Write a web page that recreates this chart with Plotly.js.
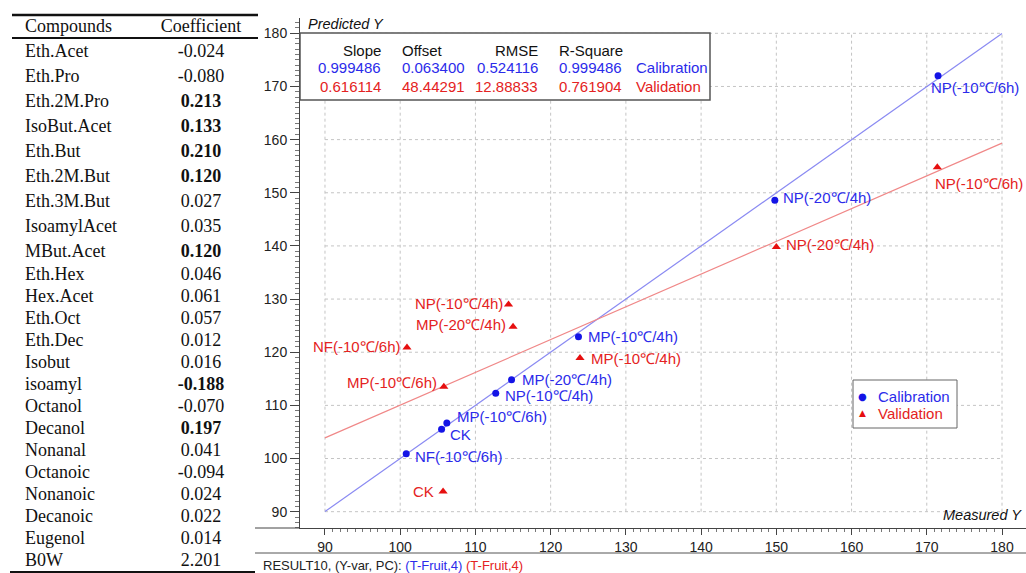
<!DOCTYPE html>
<html><head><meta charset="utf-8">
<script src="https://cdn.plot.ly/plotly-3.0.1.min.js"></script>
<style>html,body{margin:0;padding:0;background:#fff}#chart{width:1026px;height:573px}</style>
</head><body><div id="chart"></div>
<script>
// ---- table data ----
const compounds = ['Eth.Acet','Eth.Pro','Eth.2M.Pro','IsoBut.Acet','Eth.But','Eth.2M.But','Eth.3M.But','IsoamylAcet','MBut.Acet','Eth.Hex','Hex.Acet','Eth.Oct','Eth.Dec','Isobut','isoamyl','Octanol','Decanol','Nonanal','Octanoic','Nonanoic','Decanoic','Eugenol','B0W'];
const coefficients = [-0.024,-0.080,0.213,0.133,0.210,0.120,0.027,0.035,0.120,0.046,0.061,0.057,0.012,0.016,-0.188,-0.070,0.197,0.041,-0.094,0.024,0.022,0.014,2.201];
const boldFlags = [0,0,1,1,1,1,0,0,1,0,0,0,0,0,1,0,1,0,0,0,0,0,0];
const tableHeader = ['Compounds','Coefficient'];

// ---- regression statistics ----
const statNames = ['Slope','Offset','RMSE','R-Square'];
const calStats = [0.999486,0.063400,0.524116,0.999486];
const valStats = [0.616114,48.44291,12.88833,0.761904];
const setNames = ['Calibration','Validation'];

// ---- samples ----
const calNames = ['NP(-10℃/6h)','NP(-20℃/4h)','MP(-10℃/4h)','MP(-20℃/4h)','NP(-10℃/4h)','MP(-10℃/6h)','CK','NF(-10℃/6h)'];
const calMeasured = [171.5,149.8,123.7,114.8,112.7,106.2,105.5,100.8];
const calPredicted = [172.0,148.6,122.9,114.8,112.3,106.7,105.5,100.9];
const valNames = ['NP(-10℃/6h)','NP(-20℃/4h)','NP(-10℃/4h)','MP(-20℃/4h)','NF(-10℃/6h)','MP(-10℃/4h)','MP(-10℃/6h)','CK'];
const valMeasured = [171.4,150.0,114.4,115.0,100.9,123.9,105.8,105.7];
const valPredicted = [154.8,139.8,129.0,124.8,120.9,118.9,113.5,93.8];

// ---- axes ----
const xTicks = [90,100,110,120,130,140,150,160,170,180];
const yTicks = [90,100,110,120,130,140,150,160,170,180];
const xTitle = 'Measured Y';
const yTitle = 'Predicted Y';
const footer = 'RESULT10, (Y-var, PC): ';
const footerParts = ['(T-Fruit,4)','(T-Fruit,4)'];

// ---- styling / placement (not data) ----
const W = 1026, H = 573;
const px = v => v / W, py = v => 1 - v / H;
const FONT = 'Liberation Sans, Arial, sans-serif';
const SERIF = 'Liberation Serif, Times New Roman, serif';
const BLUE = '#2b2bea', RED = '#e42222';
const BLUE_M = '#1414e6', RED_M = '#e60f0f';
const calLabelAnchor = ['left','left','left','left','left','left','left','left'];
const calLabelShift = [[-9,-12],[6,3],[8,0],[8,0],[7,-2],[8,6],[6,-5],[7,-3]];
const valLabelAnchor = ['left','left','right','right','right','left','right','right'];
const valLabelShift = [[-4,-16],[8,2],[-4,1],[-5,2],[-4,1],[9,0],[-5,4],[-7,0]];
const rowY = i => i < 9 ? 52.5 + 25 * i : 275 + 22 * (i - 9);
const fmtStat = v => Math.abs(v) >= 10 ? v.toFixed(5) : v.toFixed(6);

const traces = [];
// regression lines
const xEnds = [xTicks[0], xTicks[xTicks.length - 1]];
traces.push({x: xEnds, y: xEnds.map(v => calStats[0] * v + calStats[1]), mode: 'lines',
  line: {color: '#8a8af2', width: 1.2}, showlegend: false, hoverinfo: 'skip'});
traces.push({x: xEnds, y: xEnds.map(v => valStats[0] * v + valStats[1]), mode: 'lines',
  line: {color: '#f08888', width: 1.2}, showlegend: false, hoverinfo: 'skip'});
// points
traces.push({x: calMeasured, y: calPredicted, mode: 'markers', name: setNames[0], showlegend: false,
  marker: {symbol: 'circle', size: 7, color: BLUE_M}, text: calNames});
traces.push({x: valMeasured, y: valPredicted, mode: 'markers', name: setNames[1], showlegend: false,
  marker: {symbol: 'triangle-up', size: 8, color: RED_M}, text: valNames});
// table
traces.push({x: [25].concat(compounds.map(() => 25)), y: [27].concat(compounds.map((c, i) => rowY(i))),
  text: [tableHeader[0]].concat(compounds), mode: 'text', textposition: 'middle right',
  textfont: {family: SERIF, size: 18, color: '#111'}, xaxis: 'x2', yaxis: 'y2', showlegend: false, cliponaxis: false, hoverinfo: 'skip'});
traces.push({x: [201].concat(coefficients.map(() => 201)), y: [27].concat(coefficients.map((c, i) => rowY(i))),
  text: [tableHeader[1]].concat(coefficients.map((c, i) => boldFlags[i] ? '<b>' + c.toFixed(3) + '</b>' : c.toFixed(3))),
  mode: 'text', textposition: 'middle center',
  textfont: {family: SERIF, size: 18, color: '#111'}, xaxis: 'x2', yaxis: 'y2', showlegend: false, cliponaxis: false, hoverinfo: 'skip'});

const shapes = [];
// dotted grid limited to the tick span
xTicks.forEach(v => shapes.push({type: 'line', xref: 'x', yref: 'y', x0: v, x1: v, y0: yTicks[0], y1: yTicks[yTicks.length - 1],
  line: {color: '#c4c4c4', width: 1, dash: 'dot'}, layer: 'below'}));
yTicks.forEach(v => shapes.push({type: 'line', xref: 'x', yref: 'y', y0: v, y1: v, x0: xTicks[0], x1: xTicks[xTicks.length - 1],
  line: {color: '#c4c4c4', width: 1, dash: 'dot'}, layer: 'below'}));
// stats box
shapes.push({type: 'rect', xref: 'paper', yref: 'paper', x0: px(300), x1: px(710), y0: py(100), y1: py(33),
  fillcolor: '#fff', line: {color: '#555', width: 1.5}, layer: 'above'});
// legend box
shapes.push({type: 'rect', xref: 'paper', yref: 'paper', x0: px(853), x1: px(957), y0: py(428), y1: py(380),
  fillcolor: '#fff', line: {color: '#666', width: 1}, layer: 'above'});
// frame lines
shapes.push({type: 'line', xref: 'paper', yref: 'paper', x0: px(255), x1: px(300), y0: py(528), y1: py(528), line: {color: '#444', width: 1}});
shapes.push({type: 'line', xref: 'paper', yref: 'paper', x0: px(255), x1: 1, y0: py(553), y1: py(553), line: {color: '#555', width: 1}});
// table rules
shapes.push({type: 'line', xref: 'paper', yref: 'paper', x0: px(12), x1: px(258), y0: py(15), y1: py(15), line: {color: '#111', width: 2.5}});
shapes.push({type: 'line', xref: 'paper', yref: 'paper', x0: px(12), x1: px(258), y0: py(38), y1: py(38), line: {color: '#111', width: 1.8}});
shapes.push({type: 'line', xref: 'paper', yref: 'paper', x0: px(10), x1: px(255), y0: py(572), y1: py(572), line: {color: '#111', width: 2}});

const ann = [];
calNames.forEach((n, i) => ann.push({xref: 'x', yref: 'y', x: calMeasured[i], y: calPredicted[i], text: n, showarrow: false,
  xanchor: calLabelAnchor[i], yanchor: 'middle', xshift: calLabelShift[i][0], yshift: calLabelShift[i][1],
  font: {family: FONT, size: 15, color: BLUE}}));
valNames.forEach((n, i) => ann.push({xref: 'x', yref: 'y', x: valMeasured[i], y: valPredicted[i], text: n, showarrow: false,
  xanchor: valLabelAnchor[i], yanchor: 'middle', xshift: valLabelShift[i][0], yshift: valLabelShift[i][1],
  font: {family: FONT, size: 15, color: RED}}));
// stats text
const statCols = [[383, 'right'], [400, 'left'], [540, 'right'], [557, 'left']];
statNames.forEach((s, i) => {
  ann.push({xref: 'paper', yref: 'paper', x: px(statCols[i][0]), y: py(50), xanchor: statCols[i][1], yanchor: 'middle', text: s, showarrow: false, font: {family: FONT, size: 15, color: '#111'}});
  ann.push({xref: 'paper', yref: 'paper', x: px(statCols[i][0]), y: py(68), xanchor: statCols[i][1], yanchor: 'middle', text: fmtStat(calStats[i]), showarrow: false, font: {family: FONT, size: 15, color: BLUE}});
  ann.push({xref: 'paper', yref: 'paper', x: px(statCols[i][0]), y: py(86), xanchor: statCols[i][1], yanchor: 'middle', text: fmtStat(valStats[i]), showarrow: false, font: {family: FONT, size: 15, color: RED}});
});
ann.push({xref: 'paper', yref: 'paper', x: px(634), y: py(68), xanchor: 'left', yanchor: 'middle', text: setNames[0], showarrow: false, font: {family: FONT, size: 15, color: BLUE}});
ann.push({xref: 'paper', yref: 'paper', x: px(634), y: py(86), xanchor: 'left', yanchor: 'middle', text: setNames[1], showarrow: false, font: {family: FONT, size: 15, color: RED}});
// legend (inside box)
ann.push({xref: 'paper', yref: 'paper', x: px(862), y: py(396), xanchor: 'center', yanchor: 'middle', text: '●', showarrow: false, font: {family: 'DejaVu Sans', size: 10, color: BLUE_M}});
ann.push({xref: 'paper', yref: 'paper', x: px(862), y: py(413), xanchor: 'center', yanchor: 'middle', text: '▲', showarrow: false, font: {family: 'DejaVu Sans', size: 9, color: RED_M}});
ann.push({xref: 'paper', yref: 'paper', x: px(876), y: py(396), xanchor: 'left', yanchor: 'middle', text: setNames[0], showarrow: false, font: {family: FONT, size: 15, color: BLUE}});
ann.push({xref: 'paper', yref: 'paper', x: px(876), y: py(413), xanchor: 'left', yanchor: 'middle', text: setNames[1], showarrow: false, font: {family: FONT, size: 15, color: RED}});
// axis titles
ann.push({xref: 'paper', yref: 'paper', x: px(306), y: py(24), xanchor: 'left', yanchor: 'middle', text: '<i>' + yTitle + '</i>', showarrow: false, font: {family: FONT, size: 14.5, color: '#111'}});
ann.push({xref: 'paper', yref: 'paper', x: px(1024), y: py(515), xanchor: 'right', yanchor: 'middle', text: '<i>' + xTitle + '</i>', showarrow: false, font: {family: FONT, size: 14.5, color: '#111'}});
// footer
ann.push({xref: 'paper', yref: 'paper', x: px(261), y: py(565), xanchor: 'left', yanchor: 'middle',
  text: footer + '<span style="color:' + BLUE + '">' + footerParts[0] + '</span> <span style="color:' + RED + '">' + footerParts[1] + '</span>',
  showarrow: false, font: {family: FONT, size: 13, color: '#222'}});

const xMinor = [];
for (let v = xTicks[0]; v <= xTicks[xTicks.length - 1]; v++) xMinor.push(v);

const layout = {
  width: W, height: H, margin: {l: 0, r: 0, t: 0, b: 0},
  paper_bgcolor: '#fff', plot_bgcolor: 'rgba(0,0,0,0)',
  font: {family: FONT, size: 14, color: '#222'},
  showlegend: false,
  xaxis: {domain: [px(300), 1], range: [86.68, 183.19], anchor: 'y', showgrid: false, zeroline: false,
    showline: true, linecolor: '#444', linewidth: 1, ticks: 'outside', ticklen: 6, tickcolor: '#444',
    tickmode: 'array', tickvals: xTicks, tickfont: {family: FONT, size: 14, color: '#222'},
    minor: {tickmode: 'array', tickvals: xMinor, ticks: 'outside', ticklen: 3, tickcolor: '#777', showgrid: false}},
  yaxis: {domain: [45 / H, 1 - 18 / H], range: [86.93, 182.88], anchor: 'x', showgrid: false, zeroline: false,
    showline: true, linecolor: '#444', linewidth: 1, ticks: 'outside', ticklen: 9, tickcolor: '#444',
    tickmode: 'array', tickvals: yTicks, tickfont: {family: FONT, size: 14, color: '#222'},
    minor: {tickmode: 'linear', tick0: 90, dtick: 1, ticks: 'outside', ticklen: 4, tickcolor: '#777', showgrid: false}},
  xaxis2: {domain: [0, px(258)], range: [0, 258], anchor: 'y2', visible: false, fixedrange: true},
  yaxis2: {domain: [0, 1], range: [H, 0], anchor: 'x2', visible: false, fixedrange: true},
  shapes: shapes, annotations: ann
};
Plotly.newPlot('chart', traces, layout, {displayModeBar: false, staticPlot: true});
</script></body></html>
